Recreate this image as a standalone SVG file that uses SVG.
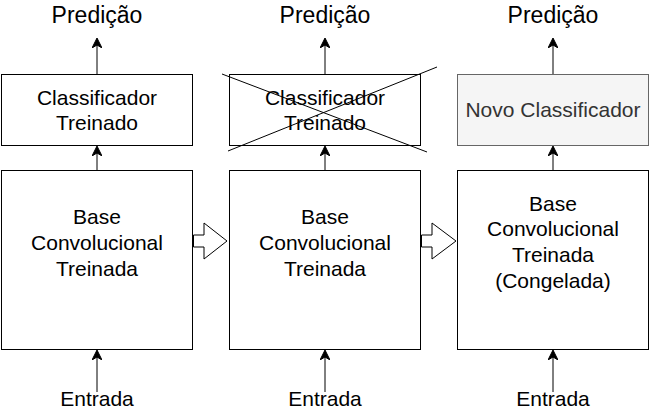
<svg xmlns="http://www.w3.org/2000/svg" width="651" height="411" viewBox="0 0 651 411">
<style>
.box{fill:#ffffff;stroke:#000000;stroke-width:1}
.gbox{fill:#f5f5f5;stroke:#666666;stroke-width:1}
.t{font-family:"Liberation Sans",Arial,sans-serif;font-size:21px;fill:#000000;text-anchor:middle}
.tp{font-family:"Liberation Sans",Arial,sans-serif;font-size:23px;fill:#000000;text-anchor:middle}
.tg{font-family:"Liberation Sans",Arial,sans-serif;font-size:21px;fill:#333333;text-anchor:middle}
.ln{stroke:#000000;stroke-width:1;fill:none}
.ha{fill:#ffffff;stroke:#000000;stroke-width:1}
</style>
<defs>
<marker id="arr" viewBox="0 0 10 10" refX="9" refY="5" markerWidth="10" markerHeight="10" markerUnits="userSpaceOnUse" orient="auto">
<path d="M0,0 L10,5 L0,10 L3,5 Z" fill="#000000" stroke="#000000" stroke-width="1"/>
</marker>
</defs>
<rect width="651" height="411" fill="#ffffff"/>
<g id="connectors">
<line class="ln" x1="97" y1="74" x2="97" y2="39" marker-end="url(#arr)"/>
<line class="ln" x1="97" y1="170" x2="97" y2="147" marker-end="url(#arr)"/>
<line class="ln" x1="97" y1="392" x2="97" y2="351" marker-end="url(#arr)"/>
<line class="ln" x1="325" y1="74" x2="325" y2="39" marker-end="url(#arr)"/>
<line class="ln" x1="325" y1="170" x2="325" y2="147" marker-end="url(#arr)"/>
<line class="ln" x1="325" y1="392" x2="325" y2="351" marker-end="url(#arr)"/>
<line class="ln" x1="553" y1="74" x2="553" y2="39" marker-end="url(#arr)"/>
<line class="ln" x1="553" y1="170" x2="553" y2="147" marker-end="url(#arr)"/>
<line class="ln" x1="553" y1="392" x2="553" y2="351" marker-end="url(#arr)"/>
<polygon class="ha" points="193.5,235 204,235 204,223 227,241 204,259 204,247 193.5,247"/>
<polygon class="ha" points="421.5,235 432,235 432,223 456,241 432,259 432,247 421.5,247"/>
</g>
<g id="label-pred-1"><text class="tp" x="97" y="23">Predição</text></g>
<g id="label-pred-2"><text class="tp" x="325" y="23">Predição</text></g>
<g id="label-pred-3"><text class="tp" x="553" y="23">Predição</text></g>
<g id="label-in-1"><text class="t" x="97" y="406">Entrada</text></g>
<g id="label-in-2"><text class="t" x="325" y="406">Entrada</text></g>
<g id="label-in-3"><text class="t" x="553" y="406">Entrada</text></g>
<g id="clf-1">
<rect class="box" x="1.5" y="74.5" width="191" height="71"/>
<text class="t" x="97" y="105">Classificador</text>
<text class="t" x="97" y="130">Treinado</text>
</g>
<g id="clf-2">
<rect class="box" x="229.5" y="74.5" width="191" height="71"/>
<text class="t" x="325" y="105">Classificador</text>
<text class="t" x="325" y="130">Treinado</text>
<line class="ln" x1="222" y1="74" x2="427" y2="152"/>
<line class="ln" x1="228" y1="151" x2="437" y2="67"/>
</g>
<g id="clf-3">
<rect class="gbox" x="457.5" y="74.5" width="191" height="71"/>
<text class="tg" x="553" y="117">Novo Classificador</text>
</g>
<g id="base-1">
<rect class="box" x="1.5" y="170.5" width="191" height="179"/>
<text class="t" x="97" y="224">Base</text>
<text class="t" x="97" y="250">Convolucional</text>
<text class="t" x="97" y="276">Treinada</text>
</g>
<g id="base-2">
<rect class="box" x="229.5" y="170.5" width="191" height="179"/>
<text class="t" x="325" y="224">Base</text>
<text class="t" x="325" y="250">Convolucional</text>
<text class="t" x="325" y="276">Treinada</text>
</g>
<g id="base-3">
<rect class="box" x="457.5" y="170.5" width="191" height="179"/>
<text class="t" x="553" y="211">Base</text>
<text class="t" x="553" y="236">Convolucional</text>
<text class="t" x="553" y="262">Treinada</text>
<text class="t" x="553" y="288">(Congelada)</text>
</g>
</svg>
